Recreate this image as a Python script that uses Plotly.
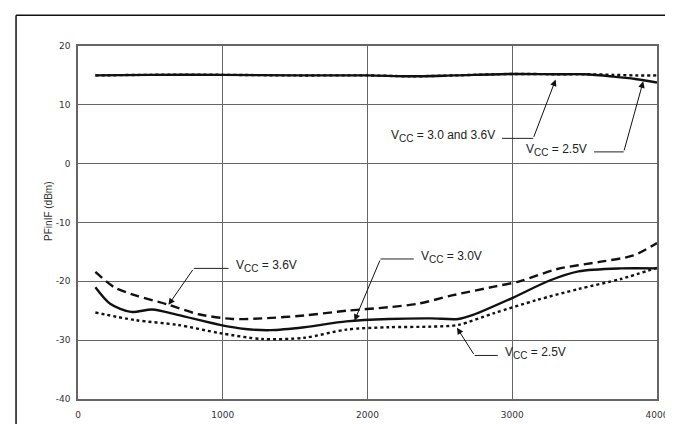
import plotly.graph_objects as go

# ---- data ----
freq_hi = [120, 500, 1000, 1500, 2000, 2300, 2600, 3000, 3300, 3500, 3700, 3850, 4000]
p_hi_30_36 = [15.0, 15.1, 15.1, 15.0, 15.0, 14.85, 15.0, 15.25, 15.2, 15.2, 14.8, 14.4, 13.8]
p_hi_25 = [15.0, 15.1, 15.1, 15.0, 15.0, 14.85, 15.0, 15.25, 15.2, 15.2, 15.1, 15.0, 15.0]

freq_30 = [120, 222, 367, 513, 688, 980, 1155, 1330, 1563, 1854, 2146, 2437, 2627, 2729, 3003, 3254, 3458, 3750, 4000]
p_30 = [-21.0, -23.8, -25.2, -24.8, -25.7, -27.4, -28.1, -28.3, -27.8, -26.8, -26.4, -26.3, -26.4, -25.7, -22.8, -19.9, -18.3, -17.8, -17.8]

freq_36 = [120, 250, 397, 615, 834, 1067, 1271, 1563, 1855, 2146, 2350, 2583, 2875, 3050, 3312, 3603, 3837, 4000]
p_36 = [-18.4, -21.0, -22.4, -23.9, -25.6, -26.4, -26.3, -25.8, -25.0, -24.4, -23.8, -22.4, -20.9, -20.0, -17.9, -16.7, -15.6, -13.5]

freq_25 = [120, 397, 688, 980, 1271, 1563, 1854, 2146, 2437, 2627, 2875, 3166, 3458, 3750, 4000]
p_25 = [-25.3, -26.6, -27.4, -28.8, -29.8, -29.6, -28.2, -27.8, -27.7, -27.4, -25.4, -23.2, -21.3, -19.6, -17.7]

x_ticks = [0, 1000, 2000, 3000, 4000]
y_ticks = [-40, -30, -20, -10, 0, 10, 20]

# callouts: label, leader y, horizontal leader from hx0 to hx1, arrow tip
callouts = [
    dict(label="3.0 and 3.6V", ty=4.3, hx0=2930, hx1=3145, tipx=3300, tipy=14.3, anchor="right"),
    dict(label="2.5V", ty=2.0, hx0=3565, hx1=3770, tipx=3905, tipy=14.0, anchor="right"),
    dict(label="3.6V", ty=-17.8, hx0=1040, hx1=800, tipx=625, tipy=-24.0, anchor="left"),
    dict(label="3.0V", ty=-16.2, hx0=2320, hx1=2090, tipx=1910, tipy=-26.7, anchor="left"),
    dict(label="2.5V", ty=-32.6, hx0=2900, hx1=2740, tipx=2618, tipy=-27.9, anchor="left"),
]

fig = go.Figure()
lw = 2.4
fig.add_trace(go.Scatter(x=freq_hi, y=p_hi_25, mode="lines",
                         line=dict(color="#111", width=lw, dash="3px,3px", shape="spline", smoothing=0.8)))
fig.add_trace(go.Scatter(x=freq_hi, y=p_hi_30_36, mode="lines",
                         line=dict(color="#111", width=lw, shape="spline", smoothing=0.8)))
fig.add_trace(go.Scatter(x=freq_25, y=p_25, mode="lines",
                         line=dict(color="#111", width=lw, dash="3px,3px", shape="spline", smoothing=0.8)))
fig.add_trace(go.Scatter(x=freq_36, y=p_36, mode="lines",
                         line=dict(color="#111", width=lw, dash="9px,5px", shape="spline", smoothing=0.8)))
fig.add_trace(go.Scatter(x=freq_30, y=p_30, mode="lines",
                         line=dict(color="#111", width=lw, shape="spline", smoothing=0.8)))

for c in callouts:
    txt = "V<sub><span style='font-size:10px'>CC</span></sub> = " + c["label"]
    tx = c["hx0"] + (-35 if c["anchor"] == "right" else 35)
    fig.add_annotation(x=tx, y=c["ty"], text=txt, showarrow=False,
                       xanchor=c["anchor"], yanchor="middle", yshift=2,
                       font=dict(family="Liberation Sans, Arial", size=12, color="#222"))
    fig.add_shape(type="line", x0=c["hx0"], x1=c["hx1"], y0=c["ty"], y1=c["ty"],
                  line=dict(color="#222", width=1))
    fig.add_annotation(x=c["tipx"], y=c["tipy"], ax=c["hx1"], ay=c["ty"],
                       axref="x", ayref="y", xref="x", yref="y", text="",
                       showarrow=True, arrowhead=2, arrowsize=1.3, arrowwidth=1, arrowcolor="#111")

fig.add_annotation(x=-0.063, y=0.53, xref="paper", yref="paper", text="PFinIF (dBm)",
                   textangle=-90, showarrow=False,
                   font=dict(family="Liberation Sans, Arial", size=10, color="#333"))

# outer frame lines (left and top)
fig.add_shape(type="line", xref="paper", yref="paper", x0=-0.107, x1=1.03, y0=1.087, y1=1.087,
              line=dict(color="#111", width=1.5))
fig.add_shape(type="line", xref="paper", yref="paper", x0=-0.107, x1=-0.107, y0=-0.08, y1=1.087,
              line=dict(color="#111", width=1.5))

fig.update_xaxes(range=[0, 4000], tickvals=x_ticks, ticktext=[str(v) for v in x_ticks],
                 showgrid=True, gridcolor="#666", gridwidth=1, zeroline=False,
                 showline=True, mirror=True, linecolor="#666", linewidth=1.5,
                 ticks="", tickfont=dict(family="DejaVu Sans", size=9, color="#333"), ticklabelstandoff=6)
fig.update_yaxes(range=[-40, 20], tickvals=y_ticks, ticktext=[str(v) for v in y_ticks],
                 showgrid=True, gridcolor="#666", gridwidth=1, zeroline=False,
                 showline=True, mirror=True, linecolor="#666", linewidth=1.5,
                 ticks="", tickfont=dict(family="DejaVu Sans", size=9, color="#333"), ticklabelstandoff=4)

fig.update_layout(width=673, height=424, margin=dict(l=70, r=14, t=38, b=27),
                  paper_bgcolor="white", plot_bgcolor="white", showlegend=False)

fig.write_html("out.html")
